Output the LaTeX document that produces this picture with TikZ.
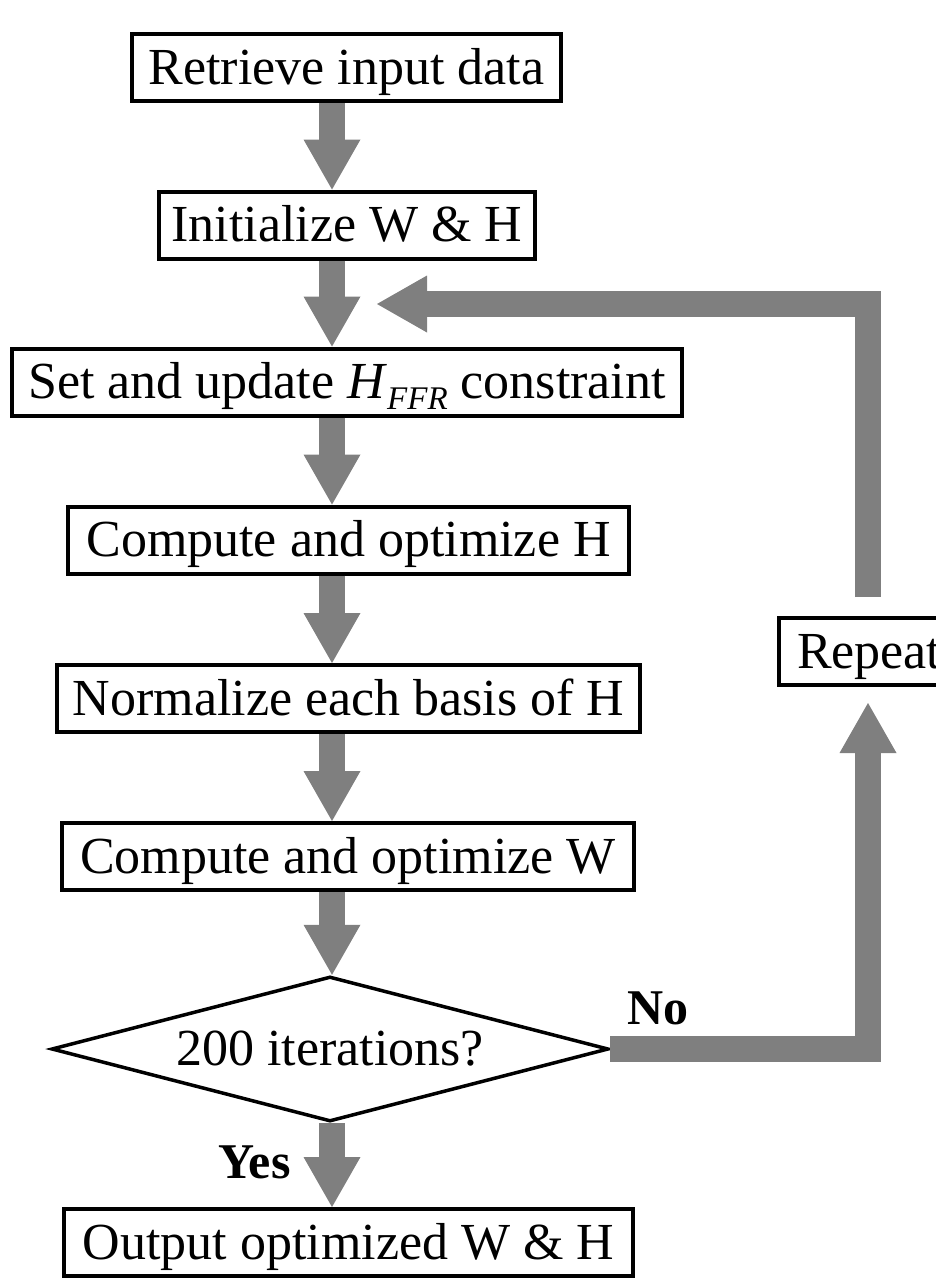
\documentclass[tikz,border=0pt]{standalone}
\usepackage{fontspec}
\setmainfont{Liberation Serif}
\usetikzlibrary{arrows.meta,shapes.geometric,calc}
\definecolor{arrowgray}{HTML}{7F7F7F}
\tikzset{
  flowbox/.style={draw=black, line width=4pt, fill=white, rectangle,
    minimum height=67pt, inner xsep=0pt, inner ysep=0pt,
    text height=40pt, text depth=7pt,
    font=\fontsize{52}{60}\selectfont},
  decision/.style={draw=black, line width=3.5pt, fill=white, diamond,
    aspect=3.79, minimum width=557pt, minimum height=145pt, inner sep=0pt,
    text height=40pt, text depth=7pt,
    font=\fontsize{52}{60}\selectfont},
  garrow/.style={draw=arrowgray, line width=26pt, line join=miter,
    -{Triangle[length=50pt,width=57pt,line width=0pt]}},
  label/.style={inner sep=0pt, anchor=base west,
    font=\fontsize{50}{60}\selectfont\bfseries}
}
\begin{document}
\begin{tikzpicture}[x=1pt,y=-1pt]
\useasboundingbox (0,0) rectangle (935,1280);
\coordinate (ax) at (332,0);
\coordinate (lx) at (868,0);
\node[flowbox, minimum width=429pt] (b1) at (346.5,67.5) {Retrieve input data};
\node[flowbox, minimum width=376pt] (b2) at (347,225) {Initialize W \& H};
\node[flowbox, minimum width=670pt] (b3) at (347,382) {Set and update \textit{H}\raisebox{-0.22em}{\fontsize{33}{33}\selectfont\itshape FFR} constraint};
\node[flowbox, minimum width=561pt] (b4) at (348.5,540) {Compute and optimize H};
\node[flowbox, minimum width=583pt] (b5) at (348.5,698.5) {Normalize each basis of H};
\node[flowbox, minimum width=572pt] (b6) at (348,856.5) {Compute and optimize W};
\node[decision] (d) at (330,1049) {200 iterations?};
\node[flowbox, minimum width=569pt] (b7) at (348.5,1242.5) {Output optimized W \& H};
\node[flowbox, anchor=west, inner xsep=18pt] (rep) at (777,651.5) {Repeat};
\node[label] (no) at (627,1024) {No};
\node[label] (yes) at (218,1178) {Yes};
\coordinate (upTip) at (868,703);
\coordinate (topStart) at (868,597);
\coordinate (leftTip) at (377,304);
\draw[garrow] (b1.south -| ax) -- (b2.north -| ax);
\draw[garrow] (b2.south -| ax) -- (b3.north -| ax);
\draw[garrow] (b3.south -| ax) -- (b4.north -| ax);
\draw[garrow] (b4.south -| ax) -- (b5.north -| ax);
\draw[garrow] (b5.south -| ax) -- (b6.north -| ax);
\draw[garrow] (b6.south -| ax) -- (d.north -| ax);
\draw[garrow] (d.south -| ax) -- (b7.north -| ax);
\draw[garrow] (d.east) -- (d.east -| lx) -- (upTip);
\draw[garrow] (topStart) -- (topStart |- leftTip) -- (leftTip);
\end{tikzpicture}
\end{document}
